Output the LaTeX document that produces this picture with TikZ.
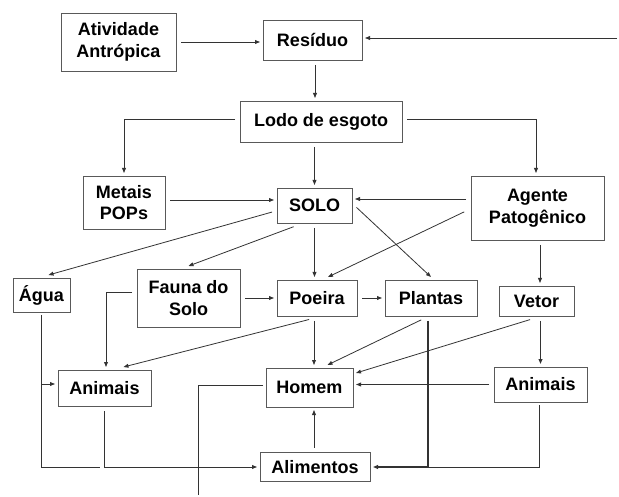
\documentclass[tikz,border=0pt]{standalone}
\usepackage{fontspec}
\setmainfont{Liberation Sans}
\usetikzlibrary{arrows.meta,calc}
\begin{document}
\begin{tikzpicture}[x=1pt,y=-1pt,
  box/.style={draw=black!65,line width=0.8pt,fill=white,inner sep=0pt,outer sep=3pt,align=center,
    font=\fontsize{18}{21.5}\selectfont\bfseries},
  conn/.style={draw=black!80,line width=0.8pt},
  ar/.style={conn,-{Triangle[length=5pt,width=3.8pt]},shorten <=2pt},
  thk/.style={line width=1.6pt}]
\useasboundingbox[fill=white] (0,0) rectangle (619,497);
% nodes
\node[box,minimum width=115pt,minimum height=58pt] (ativ) at (118.5,42) {Atividade\\Antrópica};
\node[box,minimum width=99pt,minimum height=40pt] (res) at (312.5,40) {Resíduo};
\node[box,minimum width=162pt,minimum height=41pt] (lodo) at (321,121.5) {Lodo de esgoto};
\node[box,minimum width=82pt,minimum height=53pt] (metais) at (124,202.5) {Metais\\POPs};
\node[box,minimum width=75pt,minimum height=35pt] (solo) at (314.5,205.5) {SOLO};
\node[box,minimum width=133pt,minimum height=64pt] (agente) at (537.5,208) {Agente\\Patogênico};
\node[box,minimum width=57pt,minimum height=34pt] (agua) at (41.5,295) {Água};
\node[box,minimum width=103pt,minimum height=58pt] (fauna) at (188.5,298) {Fauna do\\Solo};
\node[box,minimum width=80pt,minimum height=36pt] (poeira) at (317,298) {Poeira};
\node[box,minimum width=92pt,minimum height=36pt] (plantas) at (431,298) {Plantas};
\node[box,minimum width=75pt,minimum height=30pt] (vetor) at (536.5,301) {Vetor};
\node[box,minimum width=93pt,minimum height=36pt] (animL) at (104.5,388) {Animais};
\node[box,minimum width=87pt,minimum height=39pt] (homem) at (309.5,387.5) {Homem};
\node[box,minimum width=93pt,minimum height=35pt] (animR) at (540.5,384.5) {Animais};
\node[box,minimum width=110pt,minimum height=29pt] (alim) at (315,467) {Alimentos};
% free ends
\coordinate (rin) at (619,38);
\coordinate (aguaend) at (100,467);
\coordinate (hend) at (198,495);
% helper points on node borders
\coordinate (resS) at ($(res.south)+(2.5,0)$);
\coordinate (metE) at ($(metais.east)+(0,-2.5)$);
\coordinate (agW) at ($(agente.west)+(0,-9)$);
\coordinate (agS) at ($(agente.south)+(2.5,0)$);
\coordinate (poS) at ($(poeira.south)+(-3,0)$);
\coordinate (alN) at ($(alim.north)+(-1,0)$);
\coordinate (pt) at ($(plantas.south)+(-3,0)$);
\coordinate (ab) at ($(animL.west)+(0,-4)$);
% connectors
\draw[ar] (ativ.east) -- (ativ.east -| res.west);
\draw[ar] (rin) -- (rin -| res.east);
\draw[ar] (resS) -- (resS |- lodo.north);
\draw[ar] ($(lodo.west)+(0,-2.5)$) -| (metais.north);
\draw[ar] ($(lodo.east)+(0,-2.5)$) -| ($(agente.north)+(-1.5,0)$);
\draw[ar] (solo.north |- lodo.south) -- (solo.north);
\draw[ar] (metE) -- (metE -| solo.west);
\draw[ar] (agW) -- (agW -| solo.east);
\draw[ar] ($(agente.west)+(-2,3)$) -- ($(poeira.north)+(11,0)$);
\draw[ar] ($(solo.east)+(0,0.5)$) -- (plantas.north);
\draw[ar] (solo.south) -- (solo.south |- poeira.north);
\draw[ar] (agS) -- (agS |- vetor.north);
\draw[ar] (poeira.east) -- (plantas.west);
\draw[ar] (fauna.east) -- (poeira.west);
\draw[ar] ($(solo.south)+(-19,0)$) -- (fauna.north);
\draw[ar] ($(solo.west)+(0,6)$) -- ($(agua.north)+(7,0)$);
\draw[ar] ($(fauna.west)+(0,-6)$) -| ($(animL.north)+(1.5,0)$);
\draw[conn] (agua.south) |- (aguaend);
\draw[ar,shorten <=0pt] (ab -| agua.south) -- (ab);
\draw[ar] (animL.south) |- (alim.west);
\draw[ar] ($(poeira.south)+(-6,0)$) -- ($(animL.north)+(19,0)$);
\draw[ar] (poS) -- (poS |- homem.north);
\draw[conn] ($(homem.west)+(0,-2.5)$) -| (hend);
\draw[ar] (alN) -- (alN |- homem.south);
\draw[ar] ($(plantas.south)+(-8,0)$) -- ($(homem.north)+(18,0)$);
\draw[ar,thk] (pt) |- (alim.east);
\draw[ar] ($(vetor.south)+(-4.5,0)$) -- ($(homem.east)+(0,-14.5)$);
\draw[ar,thk] (animR.north |- vetor.south) -- (animR.north);
\draw[ar] (animR.west) -- (animR.west -| homem.east);
\draw[conn] ($(animR.south)+(-1.5,0)$) |- (pt |- alim.east);
\end{tikzpicture}
\end{document}
